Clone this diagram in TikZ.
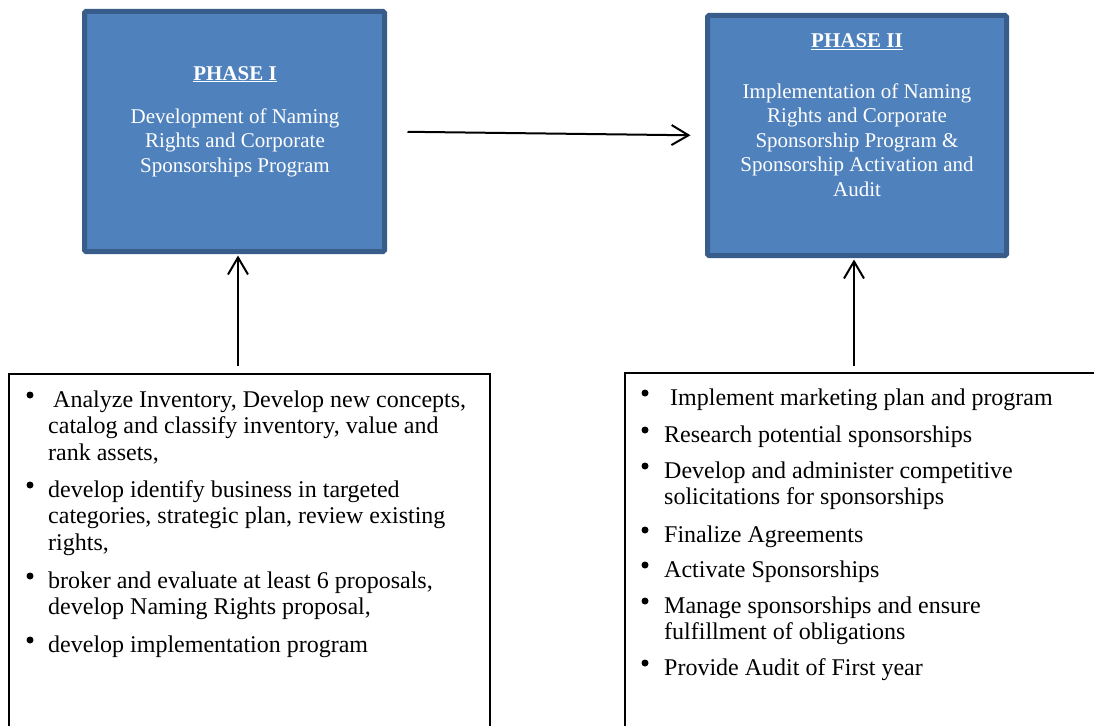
\documentclass[tikz,border=0pt]{standalone}
\usepackage{fontspec}
\setmainfont{Liberation Serif}
\usetikzlibrary{arrows.meta}
\definecolor{boxblue}{HTML}{4F81BD}
\definecolor{boxedge}{HTML}{385D8A}
\tikzset{
  phase/.style={rectangle, fill=boxblue, draw=boxedge, line width=5pt, rounded corners=1.5pt, inner sep=0pt, outer sep=0pt},
  phasetitle/.style={text=white, anchor=base, inner sep=0pt, font=\fontsize{21}{24.6}\selectfont\bfseries},
  phasetext/.style={text=white, anchor=base, align=center, inner sep=0pt, font=\fontsize{21}{24.6}\selectfont},
  listbox/.style={rectangle, draw=black, line width=2pt, inner sep=0pt, outer sep=0pt},
  itemtext/.style={anchor=base west, align=left, inner sep=0pt, font=\fontsize{24}{26.8}\selectfont},
  bul/.style={circle, fill=black, inner sep=0pt, minimum size=7pt},
  arrow/.style={line width=2pt, -{Straight Barb[length=17pt,width=20pt,line width=2pt]}}
}
\begin{document}
\begin{tikzpicture}[x=1pt,y=-1pt]
\useasboundingbox (0,0) rectangle (1094,725);
% phase boxes
\node[phase, minimum width=300pt, minimum height=240pt] (p1) at (234.5,131.5) {};
\node[phase, minimum width=299pt, minimum height=240pt] (p2) at (857,135.5) {};
\node[phasetitle] (t1) at (235,80) {\underline{PHASE I}};
\node[phasetext] (d1) at (235,172.2) {Development of Naming\\Rights and Corporate\\Sponsorships Program};
\node[phasetitle] (t2) at (857,48) {\underline{PHASE II}};
\node[phasetext] (d2) at (857,196.4) {Implementation of Naming\\Rights and Corporate\\Sponsorship Program \&\\Sponsorship Activation and\\Audit};
% list boxes
\node[listbox, minimum width=481pt, minimum height=386pt] (b1) at (249.5,567) {};
\node[listbox, minimum width=505pt, minimum height=387pt] (b2) at (877.5,566.5) {};
% left items (anchored at the baseline of the last line)
\node[bul] (lb1) at (30,395) {};
\node[itemtext] (l1) at (53,460.6) {Analyze Inventory, Develop new concepts,\\\hspace*{-5pt}catalog and classify inventory, value and\\\hspace*{-5pt}rank assets,};
\node[bul] (lb2) at (30,485) {};
\node[itemtext] (l2) at (48,550.6) {develop identify business in targeted\\categories, strategic plan, review existing\\rights,};
\node[bul] (lb3) at (30,576) {};
\node[itemtext] (l3) at (48,614.8) {broker and evaluate at least 6 proposals,\\develop Naming Rights proposal,};
\node[bul] (lb4) at (30,640) {};
\node[itemtext] (l4) at (48,652) {develop implementation program};
% right items
\node[bul] (rb1) at (645,393) {};
\node[itemtext] (r1) at (670,405) {Implement marketing plan and program};
\node[bul] (rb2) at (645,430) {};
\node[itemtext] (r2) at (664,442) {Research potential sponsorships};
\node[bul] (rb3) at (645,466) {};
\node[itemtext] (r3) at (664,504.8) {Develop and administer competitive\\solicitations for sponsorships};
\node[bul] (rb4) at (645,530) {};
\node[itemtext] (r4) at (664,542) {Finalize Agreements};
\node[bul] (rb5) at (645,565) {};
\node[itemtext] (r5) at (664,577) {Activate Sponsorships};
\node[bul] (rb6) at (645,601) {};
\node[itemtext] (r6) at (664,639.8) {Manage sponsorships and ensure\\fulfillment of obligations};
\node[bul] (rb7) at (645,663) {};
\node[itemtext] (r7) at (664,675) {Provide Audit of First year};
% connectors
\draw[arrow, shorten <=23pt, shorten >=17pt] (p1.east) -- (p2.west);
\draw[arrow, shorten <=8pt, shorten >=4pt] ([xshift=3.5pt]b1.north -| p1.south) -- ([xshift=3.5pt]p1.south);
\draw[arrow, shorten <=7pt, shorten >=4pt] ([xshift=-3pt]b2.north -| p2.south) -- ([xshift=-3pt]p2.south);
\end{tikzpicture}
\end{document}
